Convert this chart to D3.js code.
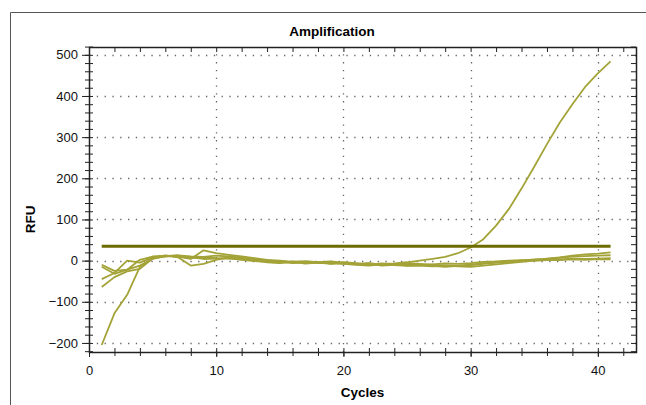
<!DOCTYPE html>
<html>
<head>
<meta charset="utf-8">
<script src="https://cdn.jsdelivr.net/npm/d3@7"></script>
<style>
  body { margin: 0; background: #fff; }
  svg { display: block; font-family: 'Liberation Sans', Arial, sans-serif; }
  .axis path, .axis line { stroke: #222; }
  .axis text { font-size: 13px; fill: #111; }
</style>
</head>
<body>
<div id="chart"></div>
<script>
// cycles 1..41
var cycles = d3.range(1, 42)

// RFU per well
var wellA = [-15, -32, -22, 2, 10, 12, 10, 6, 8, 6, 5, 3, 1, 0, -2, -4, -3, -5, -6, -7, -8, -9, -8, -7, -4, 0, 4, 9, 18, 32, 52, 85, 125, 175, 228, 283, 335, 380, 422, 455, 484]
var wellB = [-205, -128, -83, -15, 6, 10, 12, 8, 4, 5, 6, 2, -1, -3, -5, -2, -4, -6, -5, -8, -10, -12, -9, -11, -13, -12, -14, -13, -12, -10, -6, -4, -2, 0, 2, 5, 8, 12, 15, 17, 20]
var wellC = [-45, -30, 0, -5, 8, 12, 10, 4, 25, 18, 14, 10, 6, 2, 0, -3, -1, -4, -2, -5, -8, -6, -10, -8, -12, -10, -13, -15, -13, -11, -8, -5, -3, 0, 3, 4, 7, 10, 11, 12, 13]
var wellD = [-64, -40, -26, -20, 5, 12, 8, -12, -8, 2, 8, 6, 2, -4, -6, -3, -7, -5, -8, -6, -9, -7, -12, -10, -8, -11, -9, -7, -8, -6, -3, -2, 0, 1, 0, 2, 1, 3, 2, 4, 3]
var wellE = [-10, -25, -22, -12, 4, 11, 13, 10, 9, 12, 10, 7, 3, 1, -3, -6, -5, -3, -7, -4, -6, -10, -7, -9, -6, -8, -10, -12, -14, -15, -12, -9, -6, -3, 0, 1, 3, 5, 4, 5, 6]
var wells = [wellE, wellD, wellC, wellB, wellA]

var threshold = 35
var thresholdRange = [1, 41]

var xTicks = [0, 10, 20, 30, 40]
var yTicks = [-200, -100, 0, 100, 200, 300, 400, 500]

var width = 646
var height = 405
var margin = {top: 47, right: 10, bottom: 53, left: 89}

var svg = d3.select('#chart').append('svg')
    .attr('width', width)
    .attr('height', height)

// outer panel border (top + left)
svg.append('path')
    .attr('d', 'M10.5,' + height + 'V12.5H' + width)
    .attr('fill', 'none')
    .attr('stroke', '#555')
    .attr('stroke-width', 1)

var x = d3.scaleLinear().domain([0, 43]).range([margin.left, width - margin.right])
var y = d3.scaleLinear().domain([-222, 519]).range([height - margin.bottom, margin.top])

var x0 = x.range()[0], x1 = x.range()[1]
var y0 = y.range()[0], y1 = y.range()[1]

// dotted grid
var grid = svg.append('g')
    .attr('stroke', '#666')
    .attr('stroke-width', 1.3)
    .attr('stroke-dasharray', '1.3,6.5')

grid.selectAll('.hgrid')
    .data(yTicks)
    .enter().append('line')
    .attr('x1', x0).attr('x2', x1)
    .attr('y1', d => Math.round(y(d)) + 0.5)
    .attr('y2', d => Math.round(y(d)) + 0.5)

grid.selectAll('.vgrid')
    .data(xTicks.filter(d => d > 0))
    .enter().append('line')
    .attr('x1', d => Math.round(x(d)) + 0.5)
    .attr('x2', d => Math.round(x(d)) + 0.5)
    .attr('y1', y0).attr('y2', y1)

// frame
svg.append('rect')
    .attr('x', x0 + 0.5).attr('y', y1 + 0.5)
    .attr('width', x1 - x0).attr('height', y0 - y1)
    .attr('fill', 'none')
    .attr('stroke', '#222')
    .attr('stroke-width', 1.5)

var yMinor = d3.range(-220, 521, 20)
var xMinor = d3.range(0, 44, 2)

// left axis: labels + ticks crossing the line
svg.append('g')
    .attr('class', 'axis')
    .attr('transform', 'translate(' + x0 + ',0)')
    .call(d3.axisLeft(y).tickValues(yTicks).tickSize(7).tickPadding(4))
    .call(g => g.select('.domain').remove())
svg.append('g')
    .attr('class', 'axis')
    .attr('transform', 'translate(' + x0 + ',0)')
    .call(d3.axisLeft(y).tickValues(yMinor).tickSize(4).tickFormat(''))
    .call(g => g.select('.domain').remove())
svg.append('g')
    .attr('class', 'axis')
    .attr('transform', 'translate(' + x0 + ',0)')
    .call(d3.axisRight(y).tickValues(yMinor).tickSize(4).tickFormat(''))
    .call(g => g.select('.domain').remove())

// right axis: inward ticks
svg.append('g')
    .attr('class', 'axis')
    .attr('transform', 'translate(' + x1 + ',0)')
    .call(d3.axisLeft(y).tickValues(yMinor).tickSize(5).tickFormat(''))
    .call(g => g.select('.domain').remove())

// bottom axis
svg.append('g')
    .attr('class', 'axis')
    .attr('transform', 'translate(0,' + y0 + ')')
    .call(d3.axisBottom(x).tickValues(xTicks).tickSize(5).tickPadding(9))
    .call(g => g.select('.domain').remove())
svg.append('g')
    .attr('class', 'axis')
    .attr('transform', 'translate(0,' + y0 + ')')
    .call(d3.axisBottom(x).tickValues(xMinor).tickSize(4).tickFormat(''))
    .call(g => g.select('.domain').remove())
svg.append('g')
    .attr('class', 'axis')
    .attr('transform', 'translate(0,' + y0 + ')')
    .call(d3.axisTop(x).tickValues(xMinor).tickSize(4).tickFormat(''))
    .call(g => g.select('.domain').remove())

// top axis: inward ticks
svg.append('g')
    .attr('class', 'axis')
    .attr('transform', 'translate(0,' + y1 + ')')
    .call(d3.axisBottom(x).tickValues(xMinor).tickSize(5).tickFormat(''))
    .call(g => g.select('.domain').remove())

svg.selectAll('.axis text').style('font-size', '13px')

// curves
var line = d3.line()
    .x((d, i) => x(cycles[i]))
    .y(d => y(d))

svg.append('g').selectAll('.well')
    .data(wells)
    .enter().append('path')
    .attr('class', 'well')
    .attr('d', line)
    .attr('fill', 'none')
    .attr('stroke', '#a3a338')
    .attr('stroke-width', 1.8)
    .attr('stroke-linejoin', 'round')

// threshold
svg.append('line')
    .attr('x1', x(thresholdRange[0])).attr('x2', x(thresholdRange[1]))
    .attr('y1', y(threshold)).attr('y2', y(threshold))
    .attr('stroke', '#6b6b00')
    .attr('stroke-width', 3)

// titles
svg.append('text')
    .attr('x', 332).attr('y', 36)
    .attr('text-anchor', 'middle')
    .attr('font-size', '13.5px')
    .attr('font-weight', 'bold')
    .text('Amplification')

svg.append('text')
    .attr('x', (x0 + x1) / 2).attr('y', 397)
    .attr('text-anchor', 'middle')
    .attr('font-size', '13.5px')
    .attr('font-weight', 'bold')
    .text('Cycles')

svg.append('text')
    .attr('transform', 'translate(35,' + y(100) + ') rotate(-90)')
    .attr('text-anchor', 'middle')
    .attr('font-size', '13.5px')
    .attr('font-weight', 'bold')
    .text('RFU')
</script>
</body>
</html>
